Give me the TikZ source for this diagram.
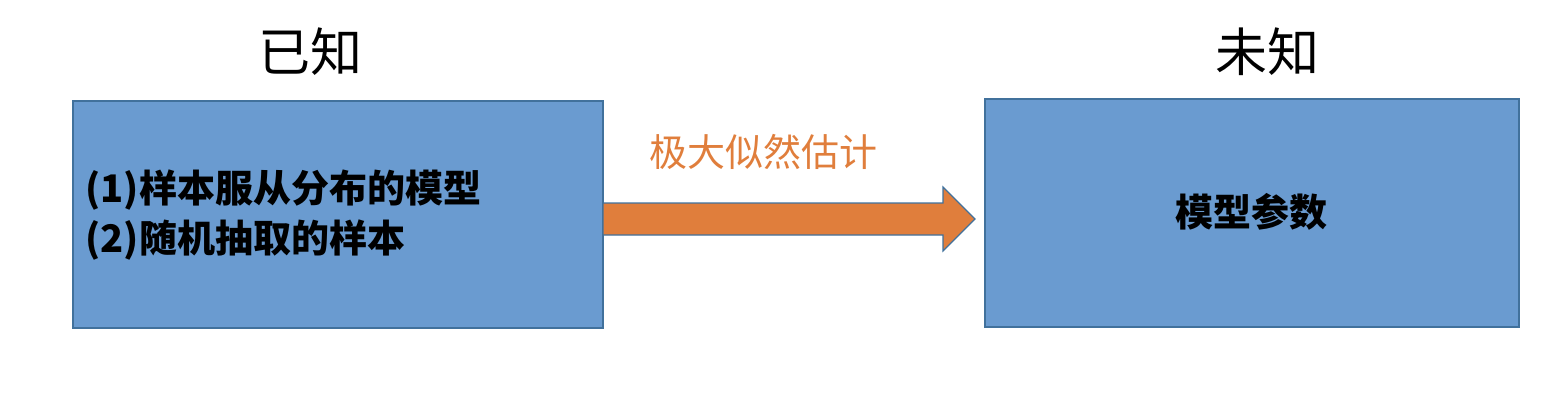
\documentclass[tikz,border=0pt]{standalone}
\usepackage{fontspec}
\newfontfamily\cjk{Noto Sans CJK SC}
\usepackage{tikz}
\usetikzlibrary{shapes.arrows}
\definecolor{boxblue}{HTML}{6A9BD0}
\definecolor{edgeblue}{HTML}{41719C}
\definecolor{arroworange}{HTML}{E07E3C}
\begin{document}
\begin{tikzpicture}[x=1pt,y=-1pt,
    box/.style={draw=edgeblue,fill=boxblue,line width=1.5pt},
    title/.style={font=\cjk\fontsize{52}{60}\selectfont},
    boxtext/.style={font=\cjk\bfseries\fontsize{38}{50}\selectfont,align=left}]

    \useasboundingbox (0,0) rectangle (1562,404);

    % known and unknown boxes
    \draw[box] (73,101) rectangle (603,328);
    \draw[box] (985,99) rectangle (1519,327);
    \coordinate (L) at (603,219);
    \coordinate (R) at (975,219);

    % estimation arrow
    \draw[draw=edgeblue,fill=arroworange,line width=1.2pt]
        (L) ++(0,-16) -- (943,203) -- (943,187) -- (R) -- (943,251)
        -- (943,235) -- (603,235) -- cycle;

    % texts
    \node[title] (known) at (310,52) {已知};
    \node[title] (unknown) at (1267,52) {未知};
    \node[font=\cjk\fontsize{38}{44}\selectfont,text=arroworange] (mle) at (763,152) {极大似然估计};
    \node[boxtext,anchor=west] (given) at (82,215) {(1)样本服从分布的模型\\(2)随机抽取的样本};
    \node[boxtext] (param) at (1251,212) {模型参数};

\end{tikzpicture}
\end{document}
